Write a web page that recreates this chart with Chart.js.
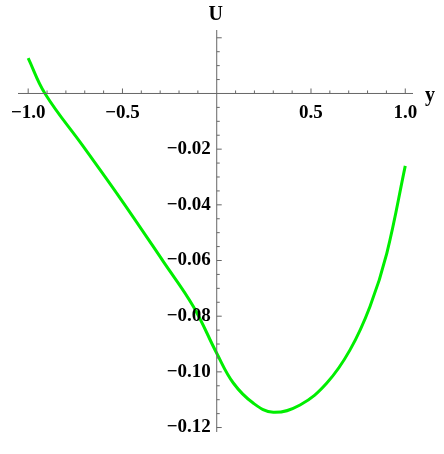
<!DOCTYPE html>
<html><head><meta charset="utf-8">
<script src="https://cdn.jsdelivr.net/npm/chart.js@4"></script>
<style>html,body{margin:0;padding:0;background:#fff}#c{display:block}</style>
</head><body>
<div style="width:444px;height:454px"><canvas id="c"></canvas></div>
<script>
const xs = [-1.0,-0.911,-0.707,-0.506,-0.283,-0.124,0.0,0.088,0.195,0.30,0.442,0.584,0.707,0.813,0.902,1.0];
const us = [0.0127,0.0,-0.0191,-0.0382,-0.0604,-0.0765,-0.0933,-0.104,-0.1113,-0.1145,-0.1119,-0.104,-0.0921,-0.0765,-0.0574,-0.026];
const xTicks = [-1.0,-0.5,0.5,1.0];
const xTickLabels = ["\u22121.0","\u22120.5","0.5","1.0"];
const yTicks = [-0.02,-0.04,-0.06,-0.08,-0.10,-0.12];
const yTickLabels = ["\u22120.02","\u22120.04","\u22120.06","\u22120.08","\u22120.10","\u22120.12"];

const axesPlugin = {
  id:'axes',
  afterDraw(chart){
    const ctx=chart.ctx, sx=chart.scales.x, sy=chart.scales.y;
    const x0=sx.getPixelForValue(0), y0=sy.getPixelForValue(0);
    ctx.save();
    ctx.strokeStyle='#666'; ctx.lineWidth=1;
    ctx.beginPath();
    ctx.moveTo(sx.left,y0); ctx.lineTo(sx.right,y0);
    ctx.moveTo(x0,sy.top); ctx.lineTo(x0,sy.bottom);
    for(let i=-10;i<=10;i++){ if(i===0)continue;
      const v=i/10, p=sx.getPixelForValue(v), len=(i%5===0)?5:3;
      ctx.moveTo(p,y0); ctx.lineTo(p,y0-len);}
    for(let i=-24;i<=4;i++){ if(i===0)continue;
      const v=i*0.005, p=sy.getPixelForValue(v), len=(i%4===0)?5:3;
      ctx.moveTo(x0,p); ctx.lineTo(x0+len,p);}
    ctx.stroke();
    ctx.fillStyle='#000';
    ctx.font='bold 19px "Liberation Serif", serif';
    ctx.textAlign='center'; ctx.textBaseline='middle';
    xTicks.forEach((v,i)=>ctx.fillText(xTickLabels[i],sx.getPixelForValue(v),y0+20));
    ctx.textAlign='right';
    yTicks.forEach((v,i)=>ctx.fillText(yTickLabels[i],x0-6,sy.getPixelForValue(v)));
    ctx.font='bold 20px "Liberation Serif", serif';
    ctx.textAlign='center';
    ctx.fillText('U',x0-1,15);
    ctx.textAlign='left';
    ctx.fillText('y',sx.right+12,y0+2);
    ctx.restore();
  }
};

new Chart(document.getElementById('c'),{
  type:'line',
  data:{datasets:[{data:xs.map((x,i)=>({x:x,y:us[i]})),borderColor:'#00ee00',borderWidth:3,pointRadius:0,tension:0.4,fill:false}]},
  options:{
    responsive:true,maintainAspectRatio:false,animation:false,
    layout:{padding:{left:18,right:31,top:30,bottom:22}},
    plugins:{legend:{display:false},tooltip:{enabled:false}},
    scales:{
      x:{type:'linear',min:-1.054,max:1.041,display:false},
      y:{type:'linear',min:-0.1216,max:0.0228,display:false}
    }
  },
  plugins:[axesPlugin]
});
</script>
</body></html>
